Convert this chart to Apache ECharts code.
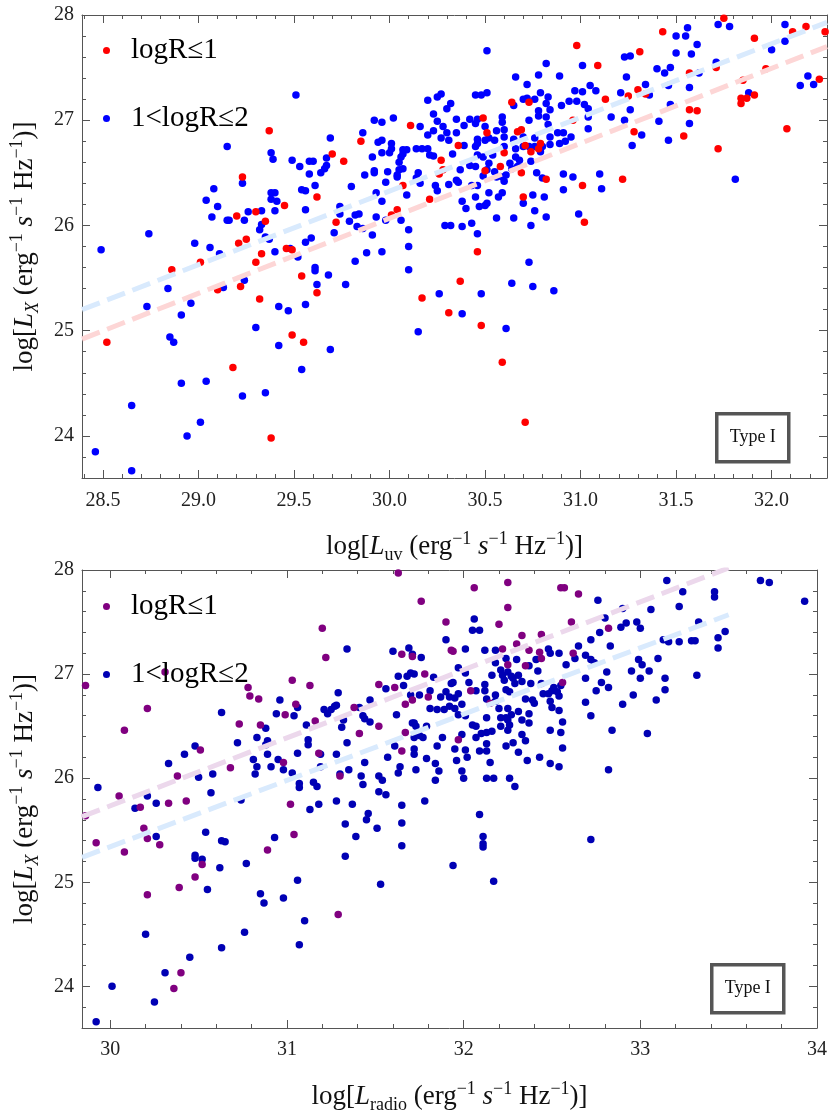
<!DOCTYPE html>
<html>
<head>
<meta charset="utf-8">
<script src="https://cdn.jsdelivr.net/npm/echarts@6/dist/echarts.min.js"></script>
<style>
  html, body { margin: 0; padding: 0; background: #fff; }
  #chart { width: 830px; height: 1115px; }
</style>
</head>
<body>
<div id="chart"></div>
<script>
// ---- data: top panel, log L_uv vs log L_X ----
const uvRed = [
  [29.37,26.90],[29.23,26.46],[29.20,26.09],[29.30,26.13],[29.35,26.04],[29.45,26.19],[29.62,26.27],[29.70,26.68],[29.76,26.61],[29.85,26.80],
  [30.11,26.95],[30.27,26.62],[30.28,26.53],[30.26,26.49],[30.07,26.38],[30.21,26.25],[30.04,26.15],[30.01,26.10],[29.72,26.03],[29.25,25.87],
  [30.64,27.17],[30.73,27.17],[30.49,27.02],[30.51,26.88],[30.36,26.76],[30.60,26.69],[30.67,26.89],[30.69,26.91],[30.71,26.76],[30.74,26.70],
  [30.78,26.73],[30.79,26.78],[30.58,26.56],[30.50,26.52],[30.69,26.50],[30.82,26.44],[30.70,26.27],[30.96,27.00],[30.98,27.71],[31.09,27.52],
  [31.13,27.20],[31.01,26.38],[31.02,26.03],[31.22,26.44],[31.28,26.89],[31.25,27.23],[31.30,27.29],[31.34,27.25],[31.31,27.65],[31.43,27.84],
  [31.57,27.45],[31.57,27.10],[31.61,27.09],[31.54,26.85],[31.72,26.73],[31.71,27.50],[31.75,27.97],[31.91,27.78],[31.97,27.49],[31.85,27.38],
  [31.84,27.21],[31.84,27.16],[31.87,27.21],[31.91,27.24],[32.08,26.92],[32.11,27.84],[32.18,27.89],[32.25,27.39],[32.28,27.84],
  [28.52,24.89],[28.86,25.58],[29.01,25.65],[29.10,25.39],[29.21,25.83],[29.22,25.42],[29.30,25.65],[29.33,25.73],[29.32,25.30],[29.18,24.65],
  [29.38,23.98],[29.46,25.78],[29.49,25.77],[29.54,25.52],[29.62,25.36],[29.49,24.96],[29.55,24.89],[30.17,25.31],[30.31,25.17],
  [30.46,25.75],[30.37,25.47],[30.48,25.05],[30.59,24.70],[30.71,24.13]
];
const uvBlue = [
  [29.51,27.24],[29.15,26.75],[29.69,26.83],[29.86,26.88],[29.92,27.00],[29.96,26.98],[30.02,27.02],[30.20,27.19],[30.25,27.22],[30.27,27.25],
  [30.32,27.16],[30.30,27.11],[30.23,27.06],[30.25,26.99],[30.16,26.94],[30.20,26.86],[30.23,26.90],[30.28,26.94],[30.30,26.88],[30.27,26.83],
  [30.31,26.81],[30.33,26.68],[30.14,26.73],[30.17,26.73],[30.20,26.73],[30.21,26.67],[30.23,26.66],[30.07,26.72],[30.09,26.72],[30.07,26.68],
  [30.06,26.65],[30.05,26.60],[30.07,26.54],[30.05,26.53],[30.04,26.48],[30.04,26.46],[30.01,26.78],[30.01,26.73],[29.96,26.81],[29.94,26.79],
  [29.96,26.69],[30.00,26.69],[29.91,26.65],[29.92,26.52],[29.92,26.50],[29.87,26.48],[29.99,26.51],[29.98,26.41],[30.15,26.50],[30.16,26.40],
  [30.24,26.38],[30.25,26.33],[30.31,26.39],[30.14,26.45],[30.09,26.29],[29.93,26.31],[29.96,26.23],[29.93,26.08],[29.98,26.05],[30.06,26.05],
  [30.10,25.96],[30.29,26.00],[30.32,26.00],[29.91,25.91],[29.86,25.97],[29.83,25.99],[29.82,26.10],[29.84,26.11],[29.79,26.04],[29.74,26.18],
  [29.74,26.11],[29.71,25.93],[29.80,26.37],[29.67,26.64],[29.67,26.57],[29.66,26.54],[29.64,26.50],[29.58,26.61],[29.60,26.61],[29.58,26.49],
  [29.53,26.56],[29.49,26.62],[29.61,26.38],[29.54,26.34],[29.56,26.33],[29.56,26.15],[29.59,25.88],[29.38,26.69],[29.39,26.63],[29.38,26.31],
  [29.40,26.31],[29.38,26.25],[29.41,26.23],[29.40,26.14],[29.33,26.14],[29.32,25.96],[29.33,26.01],[29.26,26.13],[29.24,26.05],[29.23,26.40],
  [29.08,26.35],[29.10,26.18],[29.04,26.24],[29.07,26.08],[29.15,26.05],[29.16,26.05],[28.74,25.92],[29.35,25.89],
  [30.51,27.66],[30.66,27.41],[30.72,27.34],[30.78,27.43],[30.82,27.54],[30.89,27.42],[31.01,27.52],[31.05,27.33],[31.08,27.28],[31.01,27.27],
  [30.97,27.28],[30.98,27.18],[30.94,27.18],[30.90,27.14],[31.02,27.15],[31.04,27.11],[31.04,27.03],[31.04,26.92],[30.95,26.84],[30.92,26.80],
  [30.91,26.88],[30.88,26.88],[30.89,26.78],[30.84,27.10],[30.83,27.22],[30.82,27.16],[30.78,27.09],[30.79,27.26],[30.76,27.20],[30.72,27.21],
  [30.70,27.20],[30.65,27.14],[30.73,27.00],[30.78,27.04],[30.82,27.03],[30.83,26.96],[30.84,26.84],[30.84,26.77],[30.80,26.75],[30.79,26.70],
  [30.76,26.83],[30.76,26.75],[30.73,26.75],[30.70,26.84],[30.70,26.75],[30.66,26.73],[30.66,26.65],[30.65,26.81],[30.63,26.59],[30.64,26.54],
  [30.67,26.56],[30.68,26.62],[30.74,26.61],[30.77,26.50],[30.80,26.45],[30.75,26.29],[30.81,26.27],[30.76,26.14],[30.82,26.08],[30.70,26.21],
  [30.65,26.07],[30.74,26.00],[30.57,26.27],[30.56,26.07],[30.59,26.31],[30.52,26.31],[30.51,26.21],[30.50,26.19],[30.47,26.18],[30.45,26.27],
  [30.43,26.38],[30.43,26.02],[30.46,25.92],[30.38,25.99],[30.40,26.16],[30.38,26.23],[30.36,26.41],[30.35,26.43],[30.37,26.53],[30.42,26.57],
  [30.45,26.56],[30.46,26.38],[30.49,26.47],[30.52,26.59],[30.51,26.53],[30.55,26.51],[30.56,26.46],[30.59,26.46],[30.60,26.42],[30.61,26.48],
  [30.46,26.67],[30.49,26.65],[30.54,26.67],[30.55,26.81],[30.52,26.83],[30.50,26.81],[30.46,26.82],[30.46,26.78],[30.45,26.75],[30.39,26.76],
  [30.35,26.88],[30.50,26.94],[30.45,26.97],[30.39,26.95],[30.35,27.01],[30.42,27.01],[30.46,27.01],[30.59,27.03],[30.59,26.98],[30.60,26.91],
  [30.56,26.90],[30.60,26.84],[30.60,26.75],[30.65,26.82],[30.45,27.24],[30.48,27.24],[30.51,27.26],
  [31.23,27.60],[31.26,27.61],[31.24,27.41],[31.21,27.26],[31.26,27.10],[31.16,27.03],[31.23,27.00],[31.27,26.76],[31.32,26.86],[31.34,27.34],
  [31.36,27.24],[31.40,27.49],[31.44,27.45],[31.47,27.50],[31.46,27.33],[31.47,27.15],[31.41,26.99],[31.46,26.81],[31.50,27.80],[31.55,27.80],
  [31.56,27.88],[31.50,27.64],[31.58,27.63],[31.61,27.72],[31.57,27.31],[31.57,26.97],[31.62,27.45],[31.72,27.91],[31.78,27.89],[31.71,27.55],
  [31.81,26.44],[31.88,27.26],[32.00,27.67],[32.07,27.91],[32.07,27.75],[32.15,27.33],[32.19,27.42],[32.22,27.34],[31.11,26.35],[31.10,26.49],
  [30.96,26.46],[30.91,26.49],[30.91,26.34],[30.99,26.11],
  [28.49,25.77],[28.98,25.83],[29.06,25.79],[29.11,25.73],[28.84,25.40],[28.73,25.23],[28.91,25.15],[28.96,25.26],[28.85,24.94],[28.87,24.89],
  [28.91,24.50],[29.04,24.52],[29.01,24.13],[28.94,24.00],[28.65,24.29],[28.46,23.85],[28.65,23.67],[29.13,25.41],[29.24,25.48],[29.37,25.87],
  [29.40,25.75],[29.30,25.03],[29.23,24.38],[29.35,24.41],[29.42,25.23],[29.47,25.19],[29.42,24.86],[29.48,25.78],[29.52,25.70],[29.56,25.84],
  [29.61,25.60],[29.61,25.57],[29.62,25.44],[29.56,25.25],[29.68,25.53],[29.77,25.44],[29.82,25.66],[29.54,24.63],[29.69,24.82],[29.88,25.74],
  [29.96,25.75],[30.10,25.80],[30.10,25.58],[30.15,24.99],[30.26,25.35],
  [30.48,25.35],[30.38,25.16],[30.64,25.45],[30.73,25.65],[30.75,25.42],[30.86,25.38],[30.61,25.02]
];
// dashed fit lines (end points)
const uvFitBlue = [[28.39, 25.20], [32.29, 27.93]];
const uvFitRed = [[28.39, 24.92], [32.29, 27.70]];

// ---- data: bottom panel, log L_radio vs log L_X ----
const radioPurple = [
  [29.86,26.89],[30.21,26.67],[30.08,26.46],[30.31,27.02],[30.51,26.27],[30.38,26.02],[30.05,25.83],[30.17,25.72],[30.33,25.76],[30.43,25.78],
  [30.68,26.10],[30.73,26.52],[30.78,26.87],[30.79,26.79],[30.84,26.76],[30.85,26.51],[30.98,26.15],[30.99,26.61],[31.03,26.94],[31.05,26.71],
  [31.02,25.75],[31.13,26.89],[31.16,26.55],[31.18,26.24],[31.20,27.44],[31.22,27.16],[31.30,26.02],[31.38,26.68],[31.41,26.43],[31.52,26.90],
  [31.52,26.50],[31.61,26.87],[31.63,27.97],[31.65,27.19],[31.67,26.71],[31.65,26.26],[31.71,27.17],[31.71,26.75],[31.76,27.70],[31.78,27.00],
  [31.80,26.78],[31.67,26.44],[31.90,27.50],[31.93,27.23],
  [32.06,27.83],[32.25,27.88],[32.25,27.64],[32.20,27.48],[32.55,27.83],[32.57,27.83],[32.65,27.77],[31.94,27.22],[32.33,27.37],[32.44,27.38],
  [32.30,27.29],[32.37,27.23],[32.43,27.21],[32.44,27.15],[32.22,27.24],[32.25,27.09],[32.35,27.08],[32.61,27.50],[32.62,27.20],[32.82,27.44],
  [32.56,26.92],[32.04,26.84],[32.15,26.72],[31.97,26.37],
  [29.86,25.64],[29.92,25.38],[30.08,25.29],[30.19,25.52],[30.21,25.42],[30.28,25.36],[30.21,24.88],[30.39,24.95],[30.48,25.05],[30.52,25.17],
  [30.40,24.13],[30.36,23.98],[30.89,25.31],[31.04,25.46],[31.29,24.69]
];
const radioBlue = [
  [29.93,25.91],[30.14,25.71],[30.21,25.83],[30.26,25.76],[30.33,26.14],[30.42,26.23],[30.48,26.31],[30.50,26.01],[30.58,26.04],[30.57,25.86],
  [30.63,26.63],[30.72,26.34],[30.74,25.79],[30.82,26.04],[30.81,26.18],[30.83,26.11],[30.83,26.39],[30.88,26.48],[30.89,26.36],[30.88,26.32],
  [30.89,26.23],[30.91,26.11],[30.94,26.62],[30.96,26.75],[30.95,26.18],[30.98,26.08],[31.04,26.60],[31.06,26.68],[31.06,26.24],[31.03,26.05],
  [31.07,25.95],[31.07,25.91],[31.11,26.51],[31.12,26.37],[31.12,26.32],[31.13,25.70],[31.15,25.96],[31.17,25.92],[31.18,25.75],[31.19,26.23],
  [31.19,26.11],[31.21,26.66],[31.23,26.62],[31.25,26.66],[31.27,26.69],[31.28,26.70],[31.29,26.82],[31.28,26.23],[31.28,25.78],[31.30,26.04],
  [31.31,26.49],[31.32,26.56],[31.34,27.24],[31.34,26.34],[31.35,26.08],[31.37,25.75],[31.41,26.68],[31.43,26.60],[31.42,26.02],[31.43,25.94],
  [31.44,26.15],[31.44,26.57],[31.46,25.66],[31.47,26.75],[31.47,26.54],[31.52,26.02],[31.52,25.87],[31.54,25.98],[31.56,25.84],[31.56,26.86],
  [31.57,26.20],[31.60,27.22],[31.61,26.31],[31.62,26.61],[31.63,26.98],[31.63,26.05],[31.64,26.11],[31.65,25.74],[31.66,26.89],[31.68,26.98],
  [31.69,27.25],[31.70,27.01],[31.71,27.19],[31.72,27.00],[31.70,26.80],[31.71,26.53],[31.72,26.39],[31.72,26.53],[31.72,26.28],[31.72,26.23],
  [31.73,26.50],[31.73,26.08],[31.75,26.80],[31.76,27.16],[31.75,26.41],[31.77,26.39],[31.78,25.78],[31.79,26.50],[31.81,26.84],[31.81,26.67],
  [31.79,26.19],[31.83,26.97],[31.84,26.14],[31.84,25.98],[31.85,26.66],[31.85,26.31],[31.86,26.07],[31.87,26.78],[31.88,26.39],[31.89,26.66],
  [31.90,27.33],[31.90,26.83],[31.92,26.78],[31.92,26.69],[31.93,26.91],
  [32.06,27.53],[32.05,27.42],[32.09,27.42],[32.01,27.24],[32.12,27.23],[32.18,27.23],[31.97,27.06],[32.01,27.01],[32.03,26.92],[31.94,26.92],
  [32.07,26.84],[32.12,26.90],[32.12,26.84],[32.16,26.99],[32.18,27.11],[32.21,27.04],[32.22,26.99],[32.23,26.94],[32.24,27.15],[32.25,27.02],
  [32.27,26.98],[32.28,26.96],[32.29,26.91],[32.30,27.14],[32.31,26.99],[32.24,26.85],[32.26,26.83],[32.13,26.76],[32.18,26.80],[32.18,26.74],
  [31.97,26.81],[31.95,26.77],[31.99,26.71],[31.95,26.67],[31.97,26.61],[32.01,26.60],[32.13,26.58],[32.20,26.67],[32.25,26.67],[32.21,26.58],
  [32.24,26.58],[32.25,26.56],[32.27,26.61],[32.31,26.64],[32.33,26.56],[32.37,26.62],[32.37,26.53],[32.35,26.76],[32.39,26.75],[32.40,26.72],
  [32.45,26.81],[32.48,26.81],[32.49,26.74],[32.50,26.68],[32.50,26.84],[32.53,26.83],[32.54,26.79],[32.51,26.87],[32.55,26.89],[32.54,26.65],
  [32.56,26.54],[32.55,26.44],[32.56,26.29],[32.49,26.46],[32.54,26.11],[32.49,26.14],[32.43,26.20],[32.36,26.17],[32.33,26.42],[32.31,26.25],
  [32.28,26.34],[32.35,26.36],[32.25,26.46],[32.26,26.51],[32.21,26.50],[32.24,26.31],[32.16,26.45],[32.13,26.44],[32.10,26.43],[32.07,26.39],
  [32.07,26.50],[32.05,26.51],[31.99,26.42],[31.95,26.28],[31.96,26.17],[32.01,26.27],[32.02,26.20],[32.09,26.26],[32.13,26.26],[32.13,26.33],
  [32.15,26.15],[31.99,26.07],[32.00,26.00],[32.13,26.00],[32.17,26.00],[32.26,26.00],[32.29,25.92],[32.09,25.65],
  [32.42,27.03],[32.44,26.91],[32.38,26.91],[32.33,26.93],[32.37,27.08],[32.41,27.14],[32.48,27.24],[32.49,27.20],[32.54,27.20],[32.58,27.09],
  [32.63,27.15],[32.65,27.27],[32.69,27.18],[32.72,27.14],[32.74,27.11],[32.69,26.96],[32.72,27.33],[32.77,27.40],[32.80,27.54],[32.76,27.71],
  [32.90,27.63],[32.89,27.45],[32.92,27.49],[32.83,27.27],[32.81,27.02],[32.82,26.87],[32.78,26.92],[32.75,26.84],[32.69,26.73],[32.72,26.60],
  [32.84,26.46],[32.82,26.08],[32.90,26.71],[32.96,26.80],[32.95,27.03],[32.98,27.50],[33.00,27.44],[32.99,27.14],[33.01,27.09],[33.00,26.96],
  [33.05,27.03],[33.06,27.62],[33.09,26.75],[33.04,26.43],[33.10,27.15],[33.14,26.96],[33.14,26.85],[33.13,27.33],[33.16,27.31],[33.15,27.90],
  [33.22,27.65],[33.22,27.31],[33.24,27.79],[33.32,26.99],[33.29,27.32],[33.31,27.32],[33.33,27.50],[33.42,27.79],[33.42,27.74],[33.44,27.35],
  [33.44,27.25],[33.48,27.41],[33.68,27.90],[33.73,27.88],[33.93,27.70],
  [30.26,25.44],[30.54,25.48],[30.48,25.26],[30.48,25.23],[30.52,25.22],[30.55,24.93],[30.62,25.14],[30.63,25.40],[30.65,25.39],[30.77,25.18],
  [30.93,25.43],[30.85,24.89],[30.87,24.80],[30.98,24.85],[31.06,25.02],[31.10,24.63],[31.07,24.40],[30.76,24.52],[30.63,24.37],[30.45,24.28],
  [30.31,24.13],[30.20,24.50],[30.01,24.00],[30.25,23.85],[29.92,23.66],[31.33,25.56],[31.33,25.25],[31.39,25.44],[31.45,25.60],[31.51,25.52],
  [31.53,24.98],[31.65,25.57],[31.65,25.35],
  [32.11,25.44],[32.11,25.37],[32.11,25.34],[31.94,25.16],[32.17,25.01],[32.72,25.41]
];
const radioFitPurple = [[29.84, 25.63], [33.5, 28.02]];
const radioFitBlue = [[29.84, 25.24], [33.5, 27.57]];

// axis ranges and tick values
const uvRange = [28.39, 32.29];
const radioRange = [29.84, 34.0];
const lxRange = [23.6, 28];
const legendNames = ['logR≤1', '1<logR≤2'];

const FONT = 'Liberation Serif';
const AX = '#555';

function steps(a, b, step) {
  const out = [];
  for (let v = a; v <= b + 1e-9; v += step) out.push(+v.toFixed(2));
  return out;
}

const richTitle = {
  t: { fontFamily: FONT, fontSize: 27, lineHeight: 34, color: '#111' },
  i: { fontFamily: FONT, fontSize: 27, lineHeight: 34, fontStyle: 'italic', color: '#111' },
  sub: { fontFamily: FONT, fontSize: 18, lineHeight: 18, verticalAlign: 'bottom', color: '#111' },
  isub: { fontFamily: FONT, fontSize: 18, lineHeight: 18, verticalAlign: 'bottom', fontStyle: 'italic', color: '#111' },
  sup: { fontFamily: FONT, fontSize: 18, lineHeight: 18, verticalAlign: 'top', color: '#111' }
};
const unitTail = '{t| (erg}{sup|−1}{t| }{i|s}{sup|−1}{t| Hz}{sup|−1}{t|)]}';

// four axes per side: main (line + major ticks + labels), minor ticks, mirrored top/right
function frame(kind, gridIndex, range, majors, minors, label, name) {
  const pos = kind === 'x' ? ['bottom', 'top'] : ['left', 'right'];
  const base = { type: 'value', gridIndex, min: range[0], max: range[1], splitLine: { show: false } };
  const line = { show: true, onZero: false, lineStyle: { color: AX, width: 1 } };
  const tick = (vals, len) => ({ show: true, inside: true, length: len, customValues: vals, lineStyle: { color: AX } });
  return [
    Object.assign({}, base, {
      position: pos[0], axisLine: line, axisTick: tick(majors, 8),
      axisLabel: Object.assign({ show: true, customValues: majors, fontFamily: FONT, fontSize: 20, color: '#222' }, label),
      name: name.text, nameLocation: 'middle', nameGap: name.gap, nameRotate: kind === 'y' ? 90 : 0,
      nameTextStyle: { rich: richTitle }
    }),
    Object.assign({}, base, { position: pos[0], axisLine: { show: false, onZero: false }, axisTick: tick(minors, 4), axisLabel: { show: false } }),
    Object.assign({}, base, { position: pos[1], axisLine: line, axisTick: tick(majors, 8), axisLabel: { show: false } }),
    Object.assign({}, base, { position: pos[1], axisLine: { show: false, onZero: false }, axisTick: tick(minors, 4), axisLabel: { show: false } })
  ];
}

const yMajors = steps(24, 28, 1);
const yMinors = steps(23.6, 28, 0.2);
const yName = { text: '{t|log[}{i|L}{isub|X}' + unitTail, gap: 40 };

const xAxes = [].concat(
  frame('x', 0, uvRange, steps(28.5, 32, 0.5), steps(28.4, 32.2, 0.1),
    { margin: 13, formatter: v => v.toFixed(1) },
    { text: '{t|log[}{i|L}{sub|uv}' + unitTail, gap: 52 }),
  frame('x', 1, radioRange, steps(30, 34, 1), steps(30, 34, 0.2),
    { margin: 12, formatter: v => String(Math.round(v)) },
    { text: '{t|log[}{i|L}{sub|radio}' + unitTail, gap: 52 })
);
const yAxes = [].concat(
  frame('y', 0, lxRange, yMajors, yMinors, { margin: 8, formatter: v => String(Math.round(v)) }, yName),
  frame('y', 1, lxRange, yMajors, yMinors, { margin: 8, formatter: v => String(Math.round(v)) }, yName)
);

function dots(data, color, axis) {
  return { type: 'scatter', data, xAxisIndex: axis, yAxisIndex: axis, symbolSize: 7.5,
    itemStyle: { color, opacity: 1 }, z: 2, silent: true };
}
function fit(data, color, axis) {
  return { type: 'line', data, xAxisIndex: axis, yAxisIndex: axis, symbol: 'none', clip: true,
    lineStyle: { color, width: 5, type: [19, 8] }, z: 3, silent: true };
}

function legendAt(top, colors) {
  return {
    orient: 'vertical', left: 103, top, padding: 0, itemGap: 39, icon: 'circle',
    itemWidth: 7, itemHeight: 7, selectedMode: false,
    textStyle: { fontFamily: FONT, fontSize: 29, color: '#000', padding: [0, 0, 0, 16] },
    data: legendNames.map((n, k) => ({ name: n, itemStyle: { color: colors[k] } }))
  };
}

function typeBox(x, y) {
  return {
    type: 'group', left: x, top: y, z: 100,
    children: [
      { type: 'rect', shape: { x: 0, y: 0, width: 72, height: 48 },
        style: { fill: '#fff', stroke: '#555', lineWidth: 3.5 } },
      { type: 'text', x: 36, y: 24,
        style: { text: 'Type I', fontFamily: FONT, fontSize: 18, fill: '#111', align: 'center', verticalAlign: 'middle' } }
    ]
  };
}

const chart = echarts.init(document.getElementById('chart'), null, { renderer: 'canvas' });
chart.setOption({
  animation: false,
  backgroundColor: '#fff',
  grid: [
    { left: 75, top: 15, width: 752, height: 463 },
    { left: 75, top: 570, width: 743, height: 460 }
  ],
  xAxis: xAxes,
  yAxis: yAxes,
  legend: [legendAt(36, ['#ff0000', '#0000ff']), legendAt(592, ['#800080', '#0000b4'])],
  graphic: [typeBox(715, 412), typeBox(710, 963)],
  series: [
    Object.assign(dots(uvBlue, '#0000ff', 0), { name: legendNames[1] }),
    Object.assign(dots(uvRed, '#ff0000', 0), { name: legendNames[0] }),
    fit(uvFitBlue, '#d9eafd', 0),
    fit(uvFitRed, '#fdd6d6', 0),
    Object.assign(dots(radioBlue, '#0000b4', 4), { name: legendNames[1] }),
    Object.assign(dots(radioPurple, '#800080', 4), { name: legendNames[0] }),
    fit(radioFitPurple, '#ecd8ec', 4),
    fit(radioFitBlue, '#d9eafd', 4)
  ]
});
</script>
</body>
</html>
